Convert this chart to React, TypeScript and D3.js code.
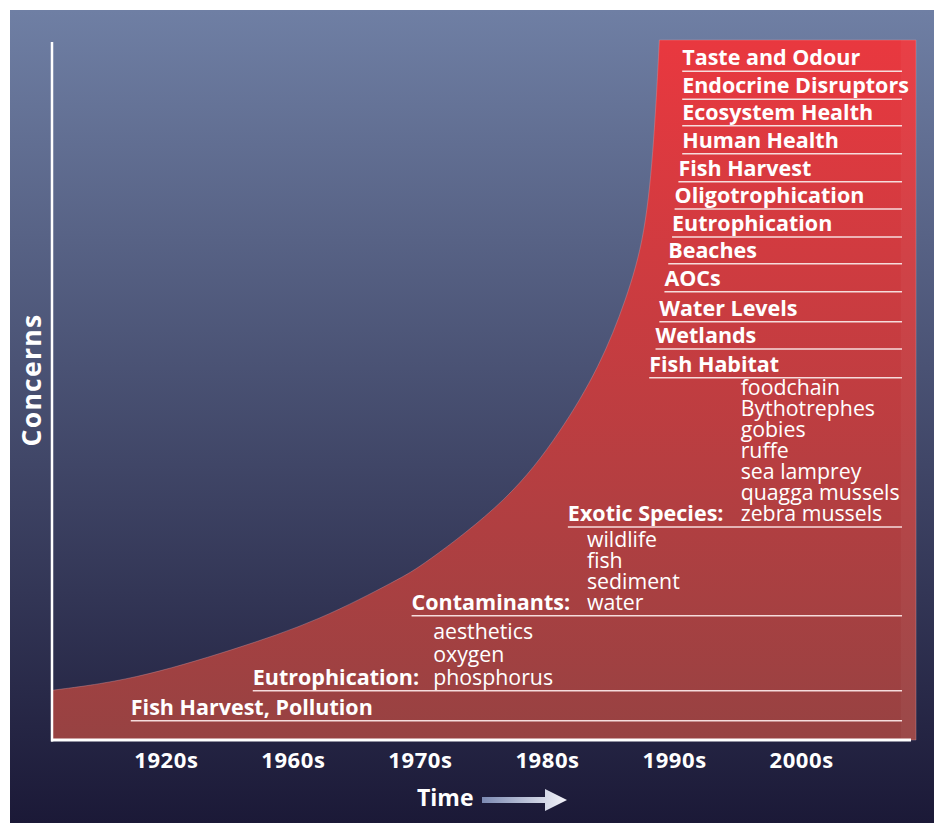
import React from "react";
import * as d3 from "d3";

// ---- data ----
const timeTicks = ["1920s", "1960s", "1970s", "1980s", "1990s", "2000s"];
const curveTime = [-0.9, -0.26, 0.53, 1.21, 1.84, 2.0, 2.7, 3.1, 3.41, 3.62, 3.77, 3.84, 3.88];
const curveConcern = [7.1, 8.6, 12.9, 17.1, 23.1, 24.7, 34.3, 43.9, 53.3, 62.9, 72.1, 85.7, 100];

const recentConcerns = [
  "Taste and Odour", "Endocrine Disruptors", "Ecosystem Health", "Human Health",
  "Fish Harvest", "Oligotrophication", "Eutrophication", "Beaches", "AOCs",
  "Water Levels", "Wetlands", "Fish Habitat",
];
const recentTime = [4.06, 4.06, 4.06, 4.06, 4.03, 4.0, 3.98, 3.95, 3.92, 3.88, 3.85, 3.8];
const recentLevel = [96.4, 92.4, 88.6, 84.6, 80.6, 76.7, 72.7, 68.9, 64.9, 60.6, 56.7, 52.6];

const groupNames = ["Fish Harvest, Pollution", "Eutrophication:", "Contaminants:", "Exotic Species:"];
const groupTime = [-0.28, 0.68, 1.93, 3.16];
const groupLevel = [3.6, 7.9, 18.6, 31.3];
const groupItems = [
  [],
  ["aesthetics", "oxygen", "phosphorus"],
  ["wildlife", "fish", "sediment", "water"],
  ["foodchain", "Bythotrephes", "gobies", "ruffe", "sea lamprey", "quagga mussels", "zebra mussels"],
];
const itemTime = [0, 2.1, 3.31, 4.52];
const lineEndTime = 5.79;

const W = 934;
const H = 823;
const FONT = "'Open Sans', 'Noto Sans', sans-serif";
const ITEM_STEP = [21, 23, 21, 21];

export default function App() {
  const x = d3.scaleLinear().domain([-0.9, 5.9]).range([52, 916]);
  const y = d3.scaleLinear().domain([0, 100]).range([740, 40]);

  const pts: [number, number][] = curveTime.map((t, i) => [t, curveConcern[i]]);
  const curve = d3
    .line<[number, number]>()
    .x((d) => x(d[0]))
    .y((d) => y(d[1]))
    .curve(d3.curveBasis)(pts) as string;
  const areaPath =
    curve + `L${x(5.9)},${y(100)}L${x(5.9)},${y(0)}L${x(-0.9)},${y(0)}Z`;

  return (
    <svg
      width={W}
      height={H}
      style={{ position: "absolute", left: 0, top: 0, display: "block" }}
      fontFamily={FONT}
    >
      <defs>
        <linearGradient id="bg" x1="0" y1="0" x2="0" y2="1">
          <stop offset="0%" stopColor="#6f7fa4" />
          <stop offset="100%" stopColor="#1b1937" />
        </linearGradient>
        <linearGradient id="red" x1="0" y1="0" x2="0" y2="1">
          <stop offset="0%" stopColor="#e9383f" />
          <stop offset="100%" stopColor="#974242" />
        </linearGradient>
        <linearGradient id="arrow" x1="0" y1="0" x2="1" y2="0">
          <stop offset="0%" stopColor="#7c8ab2" />
          <stop offset="100%" stopColor="#f4f4fa" />
        </linearGradient>
      </defs>
      <rect x={0} y={0} width={W} height={H} fill="#ffffff" />
      <rect x={10} y={10} width={W - 10} height={H - 10} fill="url(#bg)" />

      {/* red concerns area */}
      <path d={areaPath} fill="url(#red)" stroke="#d9a0a8" strokeWidth={0.6} strokeOpacity={0.6} />
      <rect x={x(5.78)} y={y(100)} width={x(5.9) - x(5.78)} height={y(0) - y(100)} fill="#ffffff" opacity={0.04} />

      {/* axes */}
      <line x1={x(-0.9)} x2={x(-0.9)} y1={42} y2={y(0) + 1.5} stroke="#ffffff" strokeWidth={2.5} />
      <line x1={x(-0.9) - 1} x2={911} y1={y(0)} y2={y(0)} stroke="#ffffff" strokeWidth={3} />

      {/* recent concerns */}
      {recentConcerns.map((name, i) => (
        <g key={name}>
          <text
            x={x(recentTime[i])}
            y={y(recentLevel[i])}
            fill="#ffffff"
            fontWeight={700}
            fontSize={21.5}
          >
            {name}
          </text>
          <line
            x1={x(recentTime[i])}
            x2={x(lineEndTime)}
            y1={y(recentLevel[i]) + 6}
            y2={y(recentLevel[i]) + 6}
            stroke="#f6dcdc"
            strokeWidth={1.5}
          />
        </g>
      ))}

      {/* grouped concerns */}
      {groupNames.map((name, i) => {
        const base = y(groupLevel[i]);
        const items = groupItems[i];
        return (
          <g key={name}>
            <text x={x(groupTime[i])} y={base} fill="#ffffff" fontWeight={700} fontSize={21.5}>
              {name}
            </text>
            <line
              x1={x(groupTime[i])}
              x2={x(lineEndTime)}
              y1={base + 6}
              y2={base + 6}
              stroke="#f6dcdc"
              strokeWidth={1.5}
            />
            {items.map((it, j) => (
              <text
                key={it}
                x={x(itemTime[i])}
                y={base - (items.length - 1 - j) * ITEM_STEP[i]}
                fill="#ffffff"
                fontSize={21.3}
              >
                {it}
              </text>
            ))}
          </g>
        );
      })}

      {/* ticks */}
      {timeTicks.map((t, i) => (
        <text
          key={t}
          x={x(i)}
          y={768}
          textAnchor="middle"
          fill="#ffffff"
          fontWeight={700}
          fontSize={22}
          letterSpacing={0.6}
        >
          {t}
        </text>
      ))}

      {/* x title */}
      <text x={417} y={806} fill="#ffffff" fontWeight={700} fontSize={23}>
        Time
      </text>
      <path
        d="M482,797 L545,797 L545,789 L567,800 L545,811 L545,803 L482,803 Z"
        fill="url(#arrow)"
      />

      {/* y title */}
      <text
        transform="translate(41,380) rotate(-90)"
        textAnchor="middle"
        fill="#ffffff"
        fontWeight={700}
        fontSize={26.5}
        letterSpacing={1.3}
      >
        Concerns
      </text>
    </svg>
  );
}
